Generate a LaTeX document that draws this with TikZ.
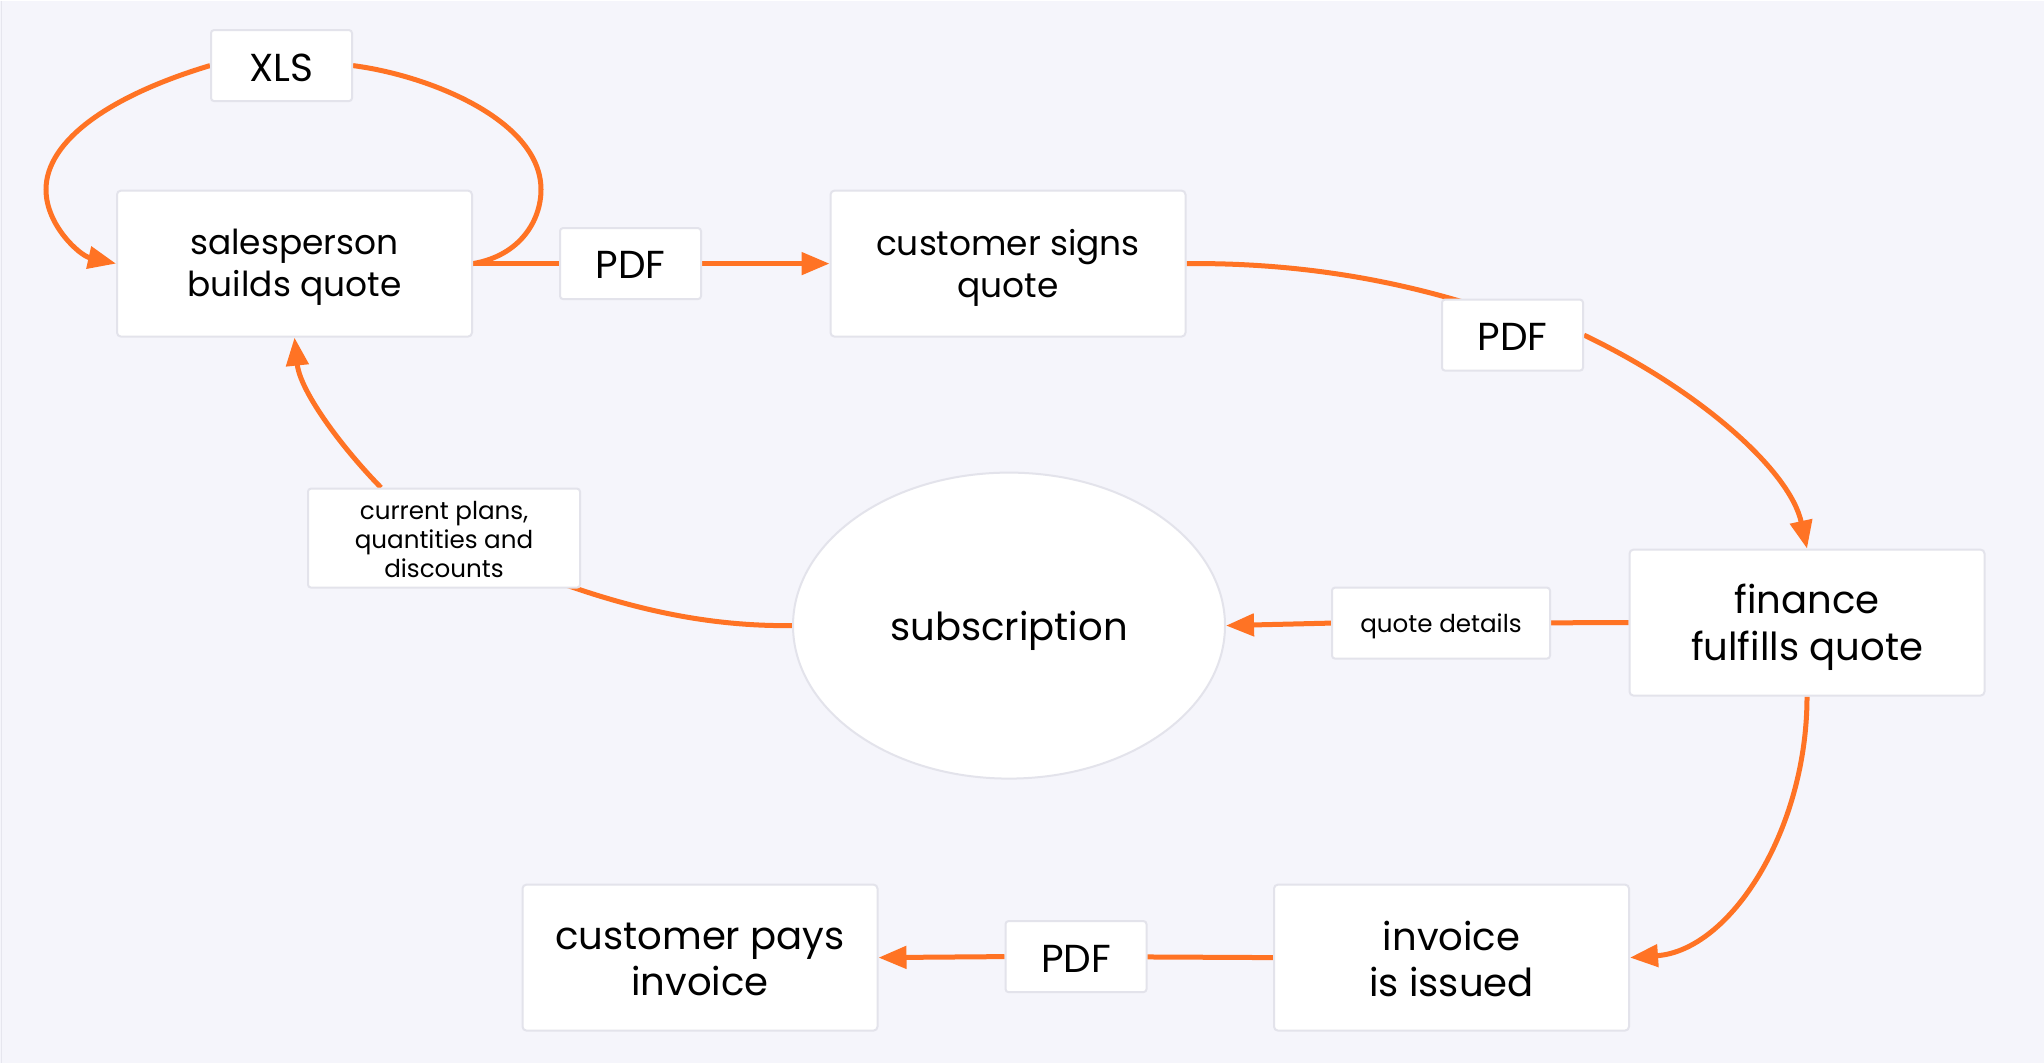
\documentclass[tikz,border=0pt]{standalone}
\usepackage{fontspec}
\setmainfont{Poppins}
\usetikzlibrary{arrows.meta,shapes.geometric}
\definecolor{bgc}{HTML}{F5F5FB}
\definecolor{org}{HTML}{FF7324}
\definecolor{bdr}{HTML}{E3E3EB}
\definecolor{edgeline}{HTML}{E6E6EE}
\pgfdeclarelayer{bg}
\pgfsetlayers{bg,main}
\tikzset{
  proc/.style={draw=bdr, line width=1pt, fill=white, rounded corners=2pt,
    inner sep=0pt, minimum width=177.5pt, minimum height=73pt},
  lab/.style={draw=bdr, line width=1pt, fill=white, rounded corners=1.5pt,
    inner sep=0pt, minimum width=70.5pt, minimum height=35.5pt},
  smalllab/.style={draw=bdr, line width=1pt, fill=white, rounded corners=1.5pt, inner sep=0pt},
  txt/.style={align=center, inner sep=0pt},
  topfont/.style={txt, font=\fontsize{17.2}{21}\selectfont},
  botfont/.style={txt, font=\fontsize{19.3}{23.2}\selectfont},
  labfont/.style={txt, font=\fontsize{19.5}{22}\selectfont},
  smallfont/.style={txt, font=\fontsize{12.3}{14.4}\selectfont},
  conn/.style={draw=org, line width=2.5pt},
  arr/.style={conn, -{Triangle[length=14pt,width=11pt]}}
}
\begin{document}
\begin{tikzpicture}[x=0.5pt,y=-0.5pt]
\begin{pgfonlayer}{bg}
\fill[bgc] (0,0) rectangle (2044,1062);
\draw[edgeline, line width=0.6pt] (1.5,0) -- (1.5,1062);
\end{pgfonlayer}
\useasboundingbox (0,0) rectangle (2044,1062);

% boxes
\node[proc] (sales) at (294.5,263) {};
\node[lab] (xls) at (281.5,65) {};
\node[lab] (pdf1) at (630.5,263) {};
\node[proc] (signs) at (1008,263) {};
\node[lab] (pdf2) at (1512.5,334.5) {};
\node[proc] (fin) at (1807,622) {};
\node[smalllab, minimum width=109pt, minimum height=35.5pt] (qd) at (1441,622.5) {};
\node[draw=bdr, line width=1pt, fill=white, ellipse, inner sep=0pt,
  minimum width=216pt, minimum height=153pt] (sub) at (1009,625) {};
\node[smalllab, minimum width=136pt, minimum height=49.5pt] (cur) at (444,537.5) {};
\node[proc] (inv) at (1451.5,957) {};
\node[lab] (pdf3) at (1076,956) {};
\node[proc] (pays) at (700,957) {};

% texts
\node[topfont] (salesT) at ([yshift=-2pt]sales.center) {salesperson\\builds quote};
\node[labfont] (xlsT) at ([yshift=-1.3pt]xls.center) {XLS};
\node[labfont] (pdf1T) at ([yshift=-0.8pt]pdf1.center) {PDF};
\node[topfont] (signsT) at ([yshift=-2pt]signs.center) {customer signs\\quote};
\node[labfont] (pdf2T) at ([yshift=-0.8pt]pdf2.center) {PDF};
\node[botfont] (finT) at ([yshift=-2.3pt]fin.center) {finance\\fulfills quote};
\node[smallfont] (qdT) at ([yshift=-1.8pt]qd.center) {quote details};
\node[botfont] (subT) at ([yshift=-2.5pt]sub.center) {subscription};
\node[smallfont] (curT) at ([yshift=-0.7pt]cur.center) {current plans,\\quantities and\\discounts};
\node[botfont] (invT) at ([yshift=-0.6pt]inv.center) {invoice\\is issued};
\node[labfont] (pdf3T) at ([yshift=-1.2pt]pdf3.center) {PDF};
\node[botfont] (paysT) at ([yshift=-1pt]pays.center) {customer pays\\invoice};

\begin{pgfonlayer}{bg}
% XLS loop
\draw[conn] (sales.east) .. controls (520,255) and (541,220) .. (541,189)
  .. controls (541,120) and (430,75) .. (xls.east);
\draw[arr] (xls.west) .. controls (110,95) and (46,140) .. (46,189)
  .. controls (46,225) and (80,255) .. (sales.west);
% sales -> signs
\draw[conn] (sales.east) -- (pdf1.center);
\draw[arr] (pdf1.east) -- (signs.west);
% signs -> finance
\draw[conn] (signs.east) .. controls (1300,262) and (1400,280) .. (1490,310);
\draw[arr] (pdf2.east) .. controls (1700,390) and (1790,470) .. (fin.north);
% finance -> subscription
\draw[conn] (fin.west) -- (qd.center);
\draw[arr] (qd.west) -- (sub.east);
% subscription -> sales
\draw[conn] (sub.west) .. controls (700,626) and (620,605) .. (540,575);
\draw[arr] (cur.north) ++(-63,0) .. controls (340,445) and (300,390) .. (sales.south);
% finance -> invoice
\draw[arr] (fin.south) .. controls (1807,830) and (1730,950) .. (inv.east);
% invoice -> pays
\draw[conn] (inv.west) -- (pdf3.center);
\draw[arr] (pdf3.west) -- (pays.east);
\end{pgfonlayer}
\end{tikzpicture}
\end{document}
